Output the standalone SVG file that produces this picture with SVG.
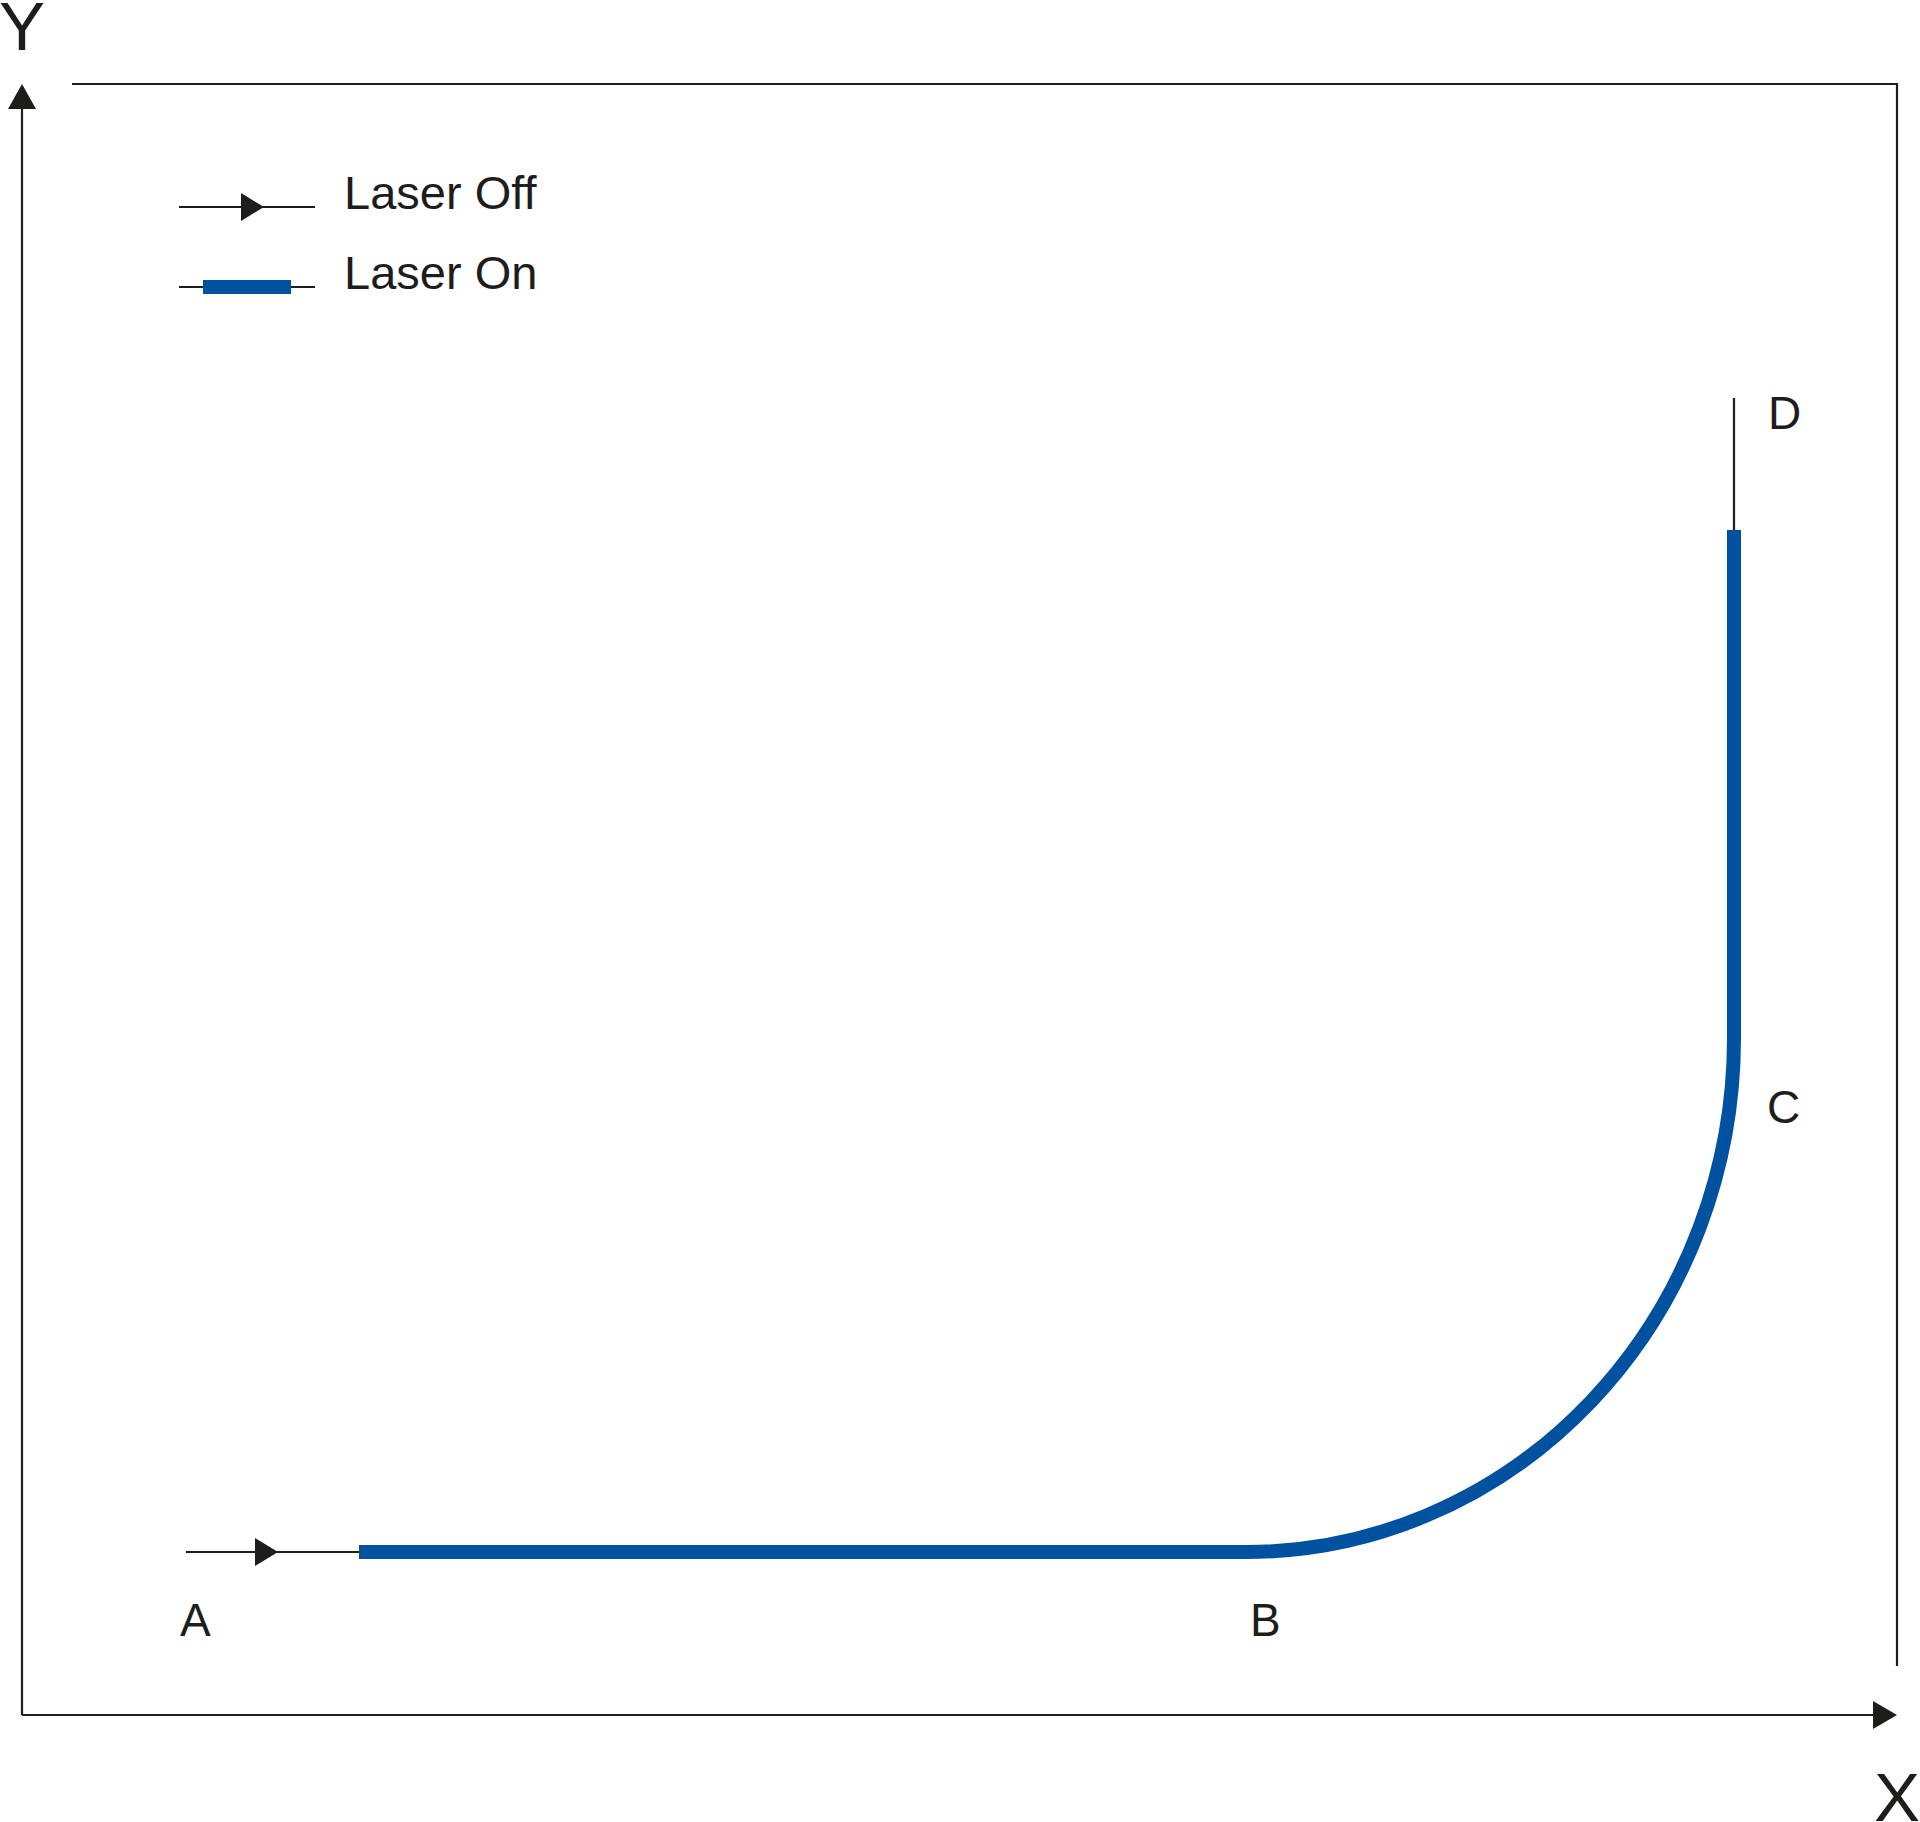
<svg xmlns="http://www.w3.org/2000/svg" width="1920" height="1822" viewBox="0 0 1920 1822">
<style>
.ln{stroke:#1d1d1b;stroke-width:2.2;fill:none}
.on{stroke:#0051a0;stroke-width:14;fill:none}
.ah{fill:#1d1d1b}
.t{font-family:"Liberation Sans",Arial,sans-serif;fill:#1d1d1b}
</style>
<rect width="1920" height="1822" fill="#ffffff"/>
<g id="frame">
<path class="ln" d="M72 84 H1897 V1666"/>
</g>
<g id="axes">
<line class="ln" x1="22" y1="1715" x2="22" y2="105"/>
<polygon class="ah" points="22,84 8,109 36,109"/>
<line class="ln" x1="22" y1="1715" x2="1877" y2="1715"/>
<polygon class="ah" points="1897,1715 1873,1701 1873,1729"/>
<text class="t" x="22" y="50" font-size="69" text-anchor="middle">Y</text>
<text class="t" x="1897" y="1821" font-size="69" text-anchor="middle">X</text>
</g>
<g id="legend">
<line class="ln" x1="179" y1="207" x2="315" y2="207"/>
<polygon class="ah" points="264,207 241,193 241,221"/>
<text class="t" x="344" y="209" font-size="47">Laser Off</text>
<line class="ln" x1="179" y1="287" x2="315" y2="287"/>
<rect x="203" y="280" width="88" height="14" fill="#0051a0"/>
<text class="t" x="344" y="289" font-size="47">Laser On</text>
</g>
<g id="connectors">
<line class="ln" x1="186" y1="1552" x2="362" y2="1552"/>
<polygon class="ah" points="278,1552 255,1538 255,1566"/>
<line class="ln" x1="1734" y1="398" x2="1734" y2="532"/>
<path class="on" d="M359 1552 H1246 A488 514 0 0 0 1734 1038 V530"/>
</g>
<g id="labels">
<text class="t" x="180" y="1636" font-size="46">A</text>
<text class="t" x="1250" y="1636" font-size="46">B</text>
<text class="t" x="1767" y="1123" font-size="46">C</text>
<text class="t" x="1768" y="429" font-size="46">D</text>
</g>
</svg>
